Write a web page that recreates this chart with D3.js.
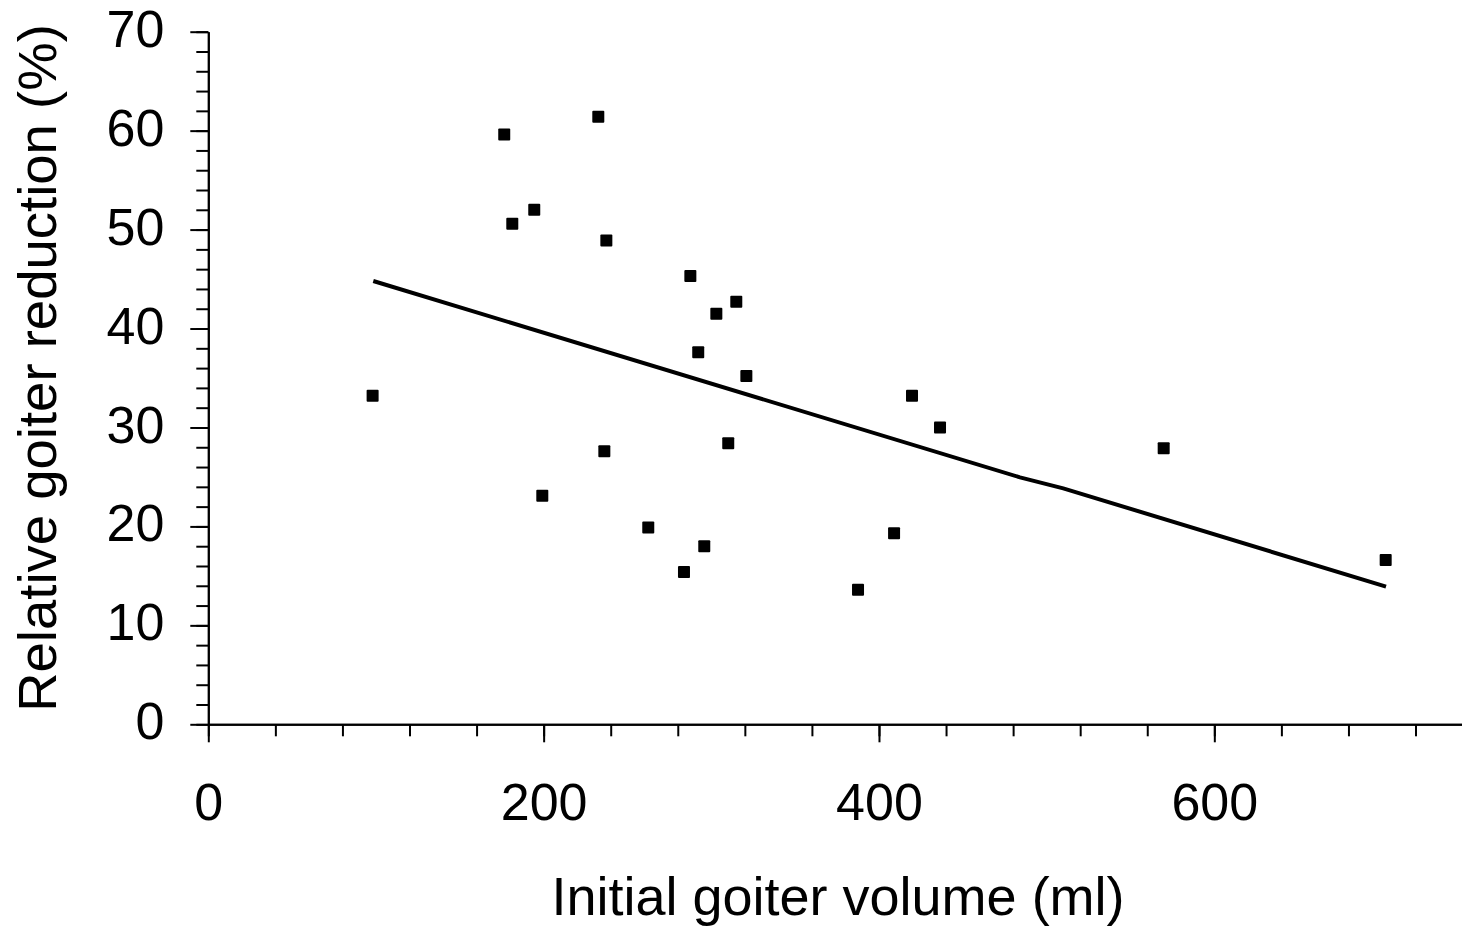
<!DOCTYPE html>
<html>
<head>
<meta charset="utf-8">
<script src="https://cdn.jsdelivr.net/npm/d3@7"></script>
<style>
  body { margin: 0; background: #fff; }
  svg text { font-family: "Liberation Sans", Arial, sans-serif; fill: #000; }
  .axis path, .axis line { stroke: #000; stroke-width: 2px; }
</style>
</head>
<body>
<svg id="chart"></svg>
<script>
// Initial goiter volume (ml) per patient
const volumes = [98.0, 176.5, 181.3, 194.4, 199.2, 232.6, 236.2, 237.4, 262.4, 283.7, 287.5, 292.2,
                 295.8, 303.0, 314.9, 310.1, 320.9, 387.5, 409.0, 419.7, 436.4, 569.8, 702.2];
// Relative goiter reduction (%) per patient
const reductions = [33.2, 59.6, 50.6, 52.0, 23.1, 61.4, 27.6, 48.9, 19.9, 15.4, 45.3, 37.6,
                    18.0, 41.5, 42.7, 28.4, 35.2, 13.6, 19.3, 33.2, 30.0, 27.9, 16.6];

// Regression line as drawn
const fitX = [98.4, 484.1, 509.9, 702.4];
const fitY = [44.8, 24.96, 23.85, 13.91];

const xMajorTicks = [0, 200, 400, 600];
const yMajorTicks = [0, 10, 20, 30, 40, 50, 60, 70];

class ScatterPlot {
    constructor(_config, _data) {
        this.config = {
            parentElement: _config.parentElement,
            containerWidth: _config.containerWidth || 1462,
            containerHeight: _config.containerHeight || 927,
            margin: { top: 31.7, bottom: 202.7, right: 0, left: 208.3 }
        };
        this.data = _data;
        this.initVis();
    }

    initVis() {
        let vis = this;

        vis.width = vis.config.containerWidth - vis.config.margin.left - vis.config.margin.right;
        vis.height = vis.config.containerHeight - vis.config.margin.top - vis.config.margin.bottom;

        vis.svg = d3.select(vis.config.parentElement)
            .attr('width', vis.config.containerWidth)
            .attr('height', vis.config.containerHeight);

        vis.chart = vis.svg.append('g')
            .attr('transform', `translate(${vis.config.margin.left},${vis.config.margin.top})`);

        // x axis runs past the last tick, off to the right edge
        vis.xScale = d3.scaleLinear()
            .domain([0, vis.width / 1.6767])
            .range([0, vis.width]);

        vis.yScale = d3.scaleLinear()
            .domain([0, 70])
            .range([vis.height, 0]);

        // minor ticks first, majors drawn on top
        vis.xMinorAxis = d3.axisBottom(vis.xScale)
            .tickValues(d3.range(0, 721, 40))
            .tickSize(12).tickSizeOuter(0)
            .tickFormat('');
        vis.xAxis = d3.axisBottom(vis.xScale)
            .tickValues(xMajorTicks)
            .tickSize(18).tickSizeOuter(0);

        vis.yMinorAxis = d3.axisLeft(vis.yScale)
            .tickValues(d3.range(0, 71, 2))
            .tickSize(12).tickSizeOuter(0)
            .tickFormat('');
        vis.yAxis = d3.axisLeft(vis.yScale)
            .tickValues(yMajorTicks)
            .tickSize(18).tickSizeOuter(0);

        vis.xAxisG = vis.chart.append('g')
            .attr('class', 'axis x-axis')
            .attr('transform', `translate(0,${vis.height})`);
        vis.xMinorG = vis.chart.append('g')
            .attr('class', 'axis x-axis-minor')
            .attr('transform', `translate(0,${vis.height})`);

        vis.yAxisG = vis.chart.append('g')
            .attr('class', 'axis y-axis');
        vis.yMinorG = vis.chart.append('g')
            .attr('class', 'axis y-axis-minor');

        // Axis titles
        vis.svg.append('text')
            .attr('x', 838)
            .attr('y', 915)
            .attr('text-anchor', 'middle')
            .style('font-size', '54px')
            .text('Initial goiter volume (ml)');

        vis.svg.append('text')
            .attr('transform', 'translate(56,368) rotate(-90)')
            .attr('text-anchor', 'middle')
            .style('font-size', '54.5px')
            .text('Relative goiter reduction (%)');
    }

    updateVis() {
        let vis = this;
        vis.points = vis.data.x.map((d, i) => ({ x: d, y: vis.data.y[i] }));
        vis.fit = fitX.map((d, i) => ({ x: d, y: fitY[i] }));
        vis.renderVis();
    }

    renderVis() {
        let vis = this;

        vis.xMinorG.call(vis.xMinorAxis);
        vis.xAxisG.call(vis.xAxis);
        vis.yMinorG.call(vis.yMinorAxis);
        vis.yAxisG.call(vis.yAxis);

        vis.xAxisG.selectAll('text')
            .attr('y', 96).attr('dy', 0)
            .style('font-size', '52px');
        vis.yAxisG.selectAll('text')
            .attr('x', -44).attr('dy', '0.28em')
            .style('font-size', '52px');

        const line = d3.line()
            .x(d => vis.xScale(d.x))
            .y(d => vis.yScale(d.y));

        vis.chart.append('path')
            .datum(vis.fit)
            .attr('fill', 'none')
            .attr('stroke', '#000')
            .attr('stroke-width', 4)
            .attr('d', line);

        const s = 12;
        vis.chart.selectAll('rect.pt')
            .data(vis.points)
            .join('rect')
                .attr('class', 'pt')
                .attr('x', d => vis.xScale(d.x) - s / 2)
                .attr('y', d => vis.yScale(d.y) - s / 2)
                .attr('width', s)
                .attr('height', s)
                .attr('rx', 1)
                .attr('fill', '#000');
    }
}

const plot = new ScatterPlot({ parentElement: '#chart' }, { x: volumes, y: reductions });
plot.updateVis();
</script>
</body>
</html>
